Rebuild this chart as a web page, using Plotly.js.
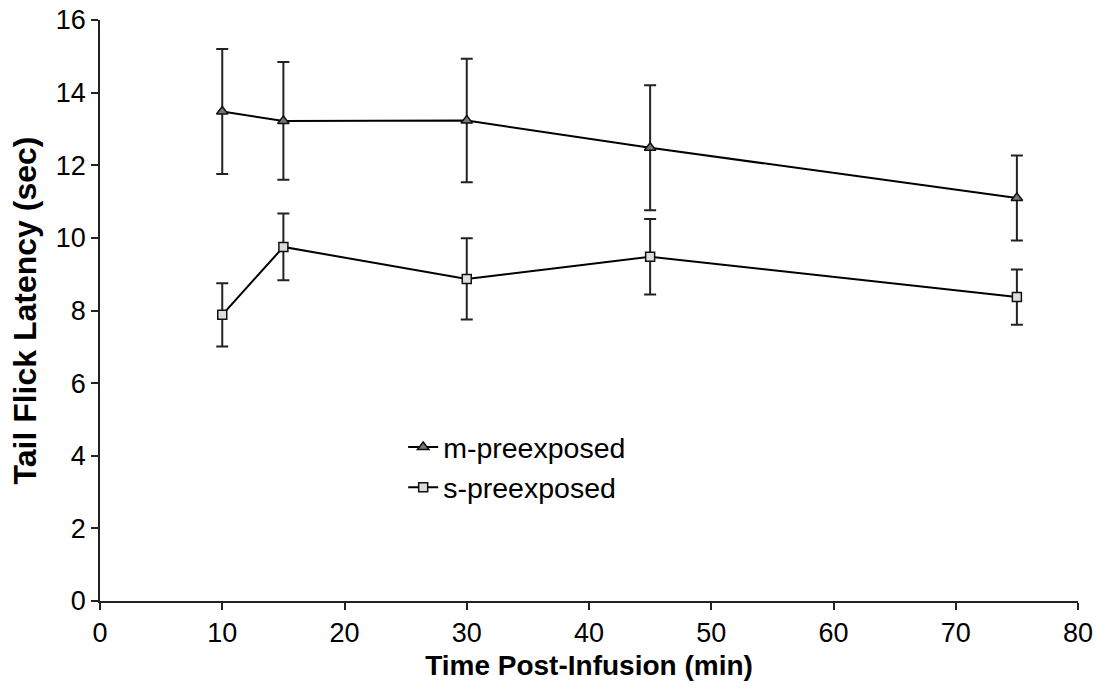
<!DOCTYPE html>
<html><head><meta charset="utf-8">
<script src="https://cdn.plot.ly/plotly-3.0.1.min.js"></script>
<style>html,body{margin:0;padding:0;background:#fff}</style>
</head><body><div id="chart" style="width:1103px;height:697px"></div>
<script>
const timeMin = [10, 15, 30, 45, 75];
const mPre = [13.48, 13.22, 13.23, 12.48, 11.1];
const mErr = [1.72, 1.62, 1.7, 1.72, 1.17];
const sPre = [7.88, 9.75, 8.87, 9.48, 8.37];
const sErr = [0.87, 0.92, 1.12, 1.04, 0.76];
const seriesNames = ['m-preexposed', 's-preexposed'];

const font = {family: 'Liberation Sans, Arial, sans-serif', color: '#000'};
const traces = [
  {x: timeMin, y: mPre, name: seriesNames[0], mode: 'lines+markers', type: 'scatter',
   line: {color: '#000', width: 2},
   marker: {symbol: 'triangle-up', size: 10, color: '#777', line: {color: '#111', width: 1.5}},
   error_y: {type: 'data', array: mErr, visible: true, color: '#222', thickness: 2, width: 6}},
  {x: timeMin, y: sPre, name: seriesNames[1], mode: 'lines+markers', type: 'scatter',
   line: {color: '#000', width: 2},
   marker: {symbol: 'square', size: 9, color: '#ddd', line: {color: '#111', width: 1.5}},
   error_y: {type: 'data', array: sErr, visible: true, color: '#222', thickness: 2, width: 6}}
];
const layout = {
  width: 1103, height: 697,
  margin: {l: 100, r: 25, t: 20, b: 96},
  paper_bgcolor: '#fff', plot_bgcolor: '#fff',
  showlegend: true,
  legend: {x: 0.31, y: 0.308, xanchor: 'left', yanchor: 'top', font: {...font, size: 28.5},
           bgcolor: 'rgba(0,0,0,0)', tracegroupgap: 0, itemwidth: 30},
  xaxis: {range: [0, 80], dtick: 10, tick0: 0, showgrid: false, zeroline: false,
          showline: true, linecolor: '#222', linewidth: 1.5, ticks: 'outside', ticklen: 7,
          tickcolor: '#222', tickwidth: 1.5, tickfont: {...font, size: 27},
          title: {text: '<b>Time Post-Infusion (min)</b>', font: {...font, size: 28}, standoff: 8}},
  yaxis: {range: [0, 16], dtick: 2, tick0: 0, showgrid: false, zeroline: false,
          showline: true, linecolor: '#222', linewidth: 1.5, ticks: 'outside', ticklen: 7,
          tickcolor: '#222', tickwidth: 1.5, tickfont: {...font, size: 27},
          title: {text: '<b>Tail Flick Latency (sec)</b>', font: {...font, size: 32}, standoff: 10}}
};
Plotly.newPlot('chart', traces, layout, {displayModeBar: false});
</script></body></html>
